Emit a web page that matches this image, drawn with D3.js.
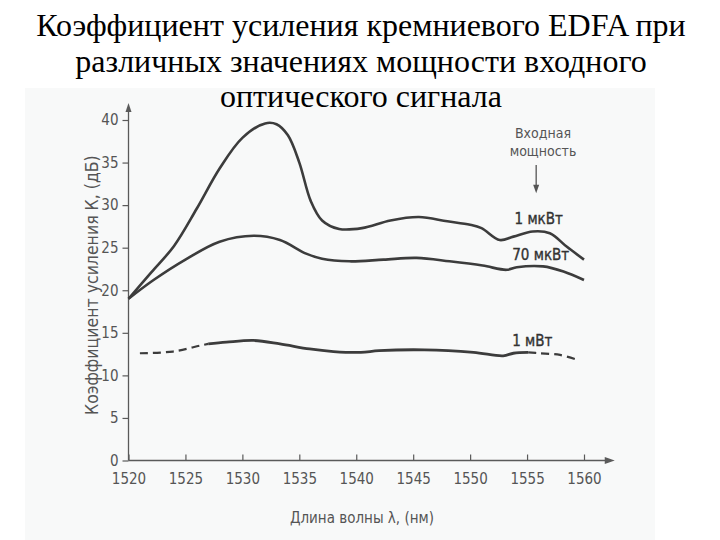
<!DOCTYPE html>
<html><head><meta charset="utf-8">
<script src="https://cdn.jsdelivr.net/npm/d3@7"></script>
<style>
html,body{margin:0;padding:0;background:#fff;}
svg{display:block;}
.tick text{font-family:"Liberation Sans Narrow","Arial Narrow","DejaVu Sans Condensed","Liberation Sans",Arial,sans-serif;font-stretch:condensed;}
</style></head>
<body>
<svg id="chart" width="720" height="540"></svg>
<script>
// ---- data ----
const titleLines = ["Коэффициент усиления кремниевого EDFA при", "различных значениях мощности входного", "оптического сигнала"];
const yTitle = "Коэффициент усиления К, (дБ)";
const xTitle = "Длина волны λ, (нм)";
const xTicks = [1520, 1525, 1530, 1535, 1540, 1545, 1550, 1555, 1560];
const yTicks = [0, 5, 10, 15, 20, 25, 30, 35, 40];

const lambda1uW = [1520, 1522, 1524, 1526, 1528, 1530, 1532, 1533, 1534, 1535, 1536, 1537, 1538.5, 1540.5, 1543, 1545.5, 1548, 1550, 1551, 1552.6, 1553.8, 1555.5, 1557, 1558.5, 1560];
const gain1uW   = [19.0, 22.1, 25.2, 29.6, 34.3, 37.9, 39.6, 39.5, 38.2, 35.0, 30.5, 28.2, 27.2, 27.3, 28.2, 28.6, 28.1, 27.7, 27.3, 25.9, 26.3, 26.9, 26.7, 25.1, 23.6];

const lambda70uW = [1520, 1522.2, 1525, 1528, 1531, 1533.3, 1535.6, 1537, 1539.4, 1542.4, 1545.3, 1548.2, 1551.1, 1553.2, 1554.1, 1556.4, 1558.2, 1560];
const gain70uW   = [19.0, 21.2, 23.6, 25.7, 26.4, 25.9, 24.3, 23.7, 23.4, 23.6, 23.8, 23.4, 22.9, 22.4, 22.7, 22.8, 22.2, 21.2];

const lambda1mW = [1521, 1523.9, 1526.3, 1527, 1528.6, 1531, 1533.3, 1535.9, 1538, 1540.4, 1542, 1546, 1550.3, 1552.9, 1553.8, 1555.1, 1556.1, 1557.9, 1559.5];
const gain1mW   = [12.6, 12.8, 13.5, 13.7, 13.9, 14.1, 13.7, 13.1, 12.8, 12.7, 12.9, 13.0, 12.7, 12.3, 12.6, 12.7, 12.6, 12.4, 11.8];
const solid1mW = [1527, 1555.1]; // measured (solid) range; outside is dashed

const seriesLabels = ["1 мкВт", "70 мкВт", "1 мВт"];
const legendTitle = ["Входная", "мощность"];

// ---- drawing ----
const svg = d3.select("#chart");
svg.append("rect").attr("x",0).attr("y",0).attr("width",720).attr("height",540).attr("fill","#fff");
svg.append("rect").attr("x",25).attr("y",88).attr("width",630).attr("height",452).attr("fill","#f8f9f9");

const x = d3.scaleLinear().domain([1520, 1560]).range([128.5, 584]);
const y = d3.scaleLinear().domain([0, 40]).range([460.5, 120]);

// title
svg.append("g").selectAll("text").data(titleLines).join("text")
  .attr("x", 361).attr("y", (d,i)=>36 + i*35.5)
  .attr("text-anchor","middle")
  .attr("font-family","'Liberation Serif','Times New Roman',serif")
  .attr("font-size", 32).attr("fill","#000")
  .text(d=>d);

const axisColor = "#5a5a5a", textColor = "#555";
const sansFont = "'Liberation Sans Narrow','Arial Narrow','DejaVu Sans Condensed','Liberation Sans',Arial,sans-serif";

// axes
const gy = svg.append("g").attr("transform", `translate(${x(1520)},0)`)
  .call(d3.axisLeft(y).tickValues(yTicks).tickSizeInner(6).tickSizeOuter(0).tickPadding(4));
const gx = svg.append("g").attr("transform", `translate(0,${y(0)})`)
  .call(d3.axisBottom(x).tickValues(xTicks).tickFormat(d3.format("d")).tickSizeInner(-6).tickSizeOuter(0).tickPadding(13));
[gx, gy].forEach(g=>{
  g.select(".domain").remove();
  g.selectAll(".tick line").attr("stroke", axisColor).attr("stroke-width",1.2);
  g.selectAll(".tick text").attr("fill", textColor).attr("font-size", 15);
});

// axis lines with arrows
const x0 = x(1520), y0 = y(0);
const yTop = y(42), xEnd = x(1562.7);
svg.append("line").attr("x1",x0).attr("y1",y0).attr("x2",x0).attr("y2",yTop+4)
  .attr("stroke",axisColor).attr("stroke-width",1.3);
svg.append("line").attr("x1",x0).attr("y1",y0).attr("x2",xEnd-4).attr("y2",y0)
  .attr("stroke",axisColor).attr("stroke-width",1.3);
svg.append("path").attr("d",`M${x0},${yTop} L${x0-3},${yTop+9} L${x0+3},${yTop+9} Z`).attr("fill",axisColor);
svg.append("path").attr("d",`M${xEnd},${y0} L${xEnd-10},${y0-3.5} L${xEnd-10},${y0+3.5} Z`).attr("fill",axisColor);

// axis titles
svg.append("text").attr("transform",`translate(92,${y(20.6)}) rotate(-90)`)
  .attr("text-anchor","middle").attr("dy","0.35em")
  .attr("font-family",sansFont).attr("font-stretch","condensed")
  .attr("font-size",17.5).attr("fill",textColor).text(yTitle);
svg.append("text").attr("x",x(1540.5)).attr("y",523)
  .attr("text-anchor","middle")
  .attr("font-family",sansFont).attr("font-stretch","condensed")
  .attr("font-size",15).attr("fill",textColor).text(xTitle);

// curves
const line = d3.line().x(d=>x(d[0])).y(d=>y(d[1])).curve(d3.curveCatmullRom.alpha(0.5));
const curveColor = "#3c3c3c";
const s1 = d3.zip(lambda1uW, gain1uW);
const s2 = d3.zip(lambda70uW, gain70uW);
const s3 = d3.zip(lambda1mW, gain1mW);
[s1, s2].forEach(s=>{
  svg.append("path").attr("d", line(s)).attr("fill","none")
    .attr("stroke",curveColor).attr("stroke-width",2.6).attr("stroke-linejoin","round");
});
const seg = (lo, hi) => s3.filter(d=>d[0]>=lo && d[0]<=hi);
svg.append("path").attr("d", line(seg(-Infinity, solid1mW[0]))).attr("fill","none")
  .attr("stroke",curveColor).attr("stroke-width",2.2).attr("stroke-dasharray","8,5");
svg.append("path").attr("d", line(seg(solid1mW[1], Infinity))).attr("fill","none")
  .attr("stroke",curveColor).attr("stroke-width",2.2).attr("stroke-dasharray","8,5");
svg.append("path").attr("d", line(seg(solid1mW[0], solid1mW[1]))).attr("fill","none")
  .attr("stroke",curveColor).attr("stroke-width",2.8);

// series labels
const labPos = [[1553.9, 27.8], [1553.7, 23.5], [1553.7, 13.5]];
svg.append("g").selectAll("text").data(seriesLabels).join("text")
  .attr("x",(d,i)=>x(labPos[i][0])).attr("y",(d,i)=>y(labPos[i][1]))
  .attr("font-family",sansFont).attr("font-stretch","condensed")
  .attr("font-size",15).attr("fill","#333")
  .attr("stroke","#333").attr("stroke-width",0.35).text(d=>d);

// legend title + arrow
svg.append("g").selectAll("text").data(legendTitle).join("text")
  .attr("x", x(1556.4)).attr("y",(d,i)=>y(37.9) + i*18.5)
  .attr("text-anchor","middle")
  .attr("font-family",sansFont).attr("font-stretch","condensed")
  .attr("font-size",14).attr("fill","#555").text(d=>d);
const ax = x(1555.8);
svg.append("line").attr("x1",ax).attr("y1",y(34.7)).attr("x2",ax).attr("y2",y(32.2)).attr("stroke","#555").attr("stroke-width",1.3);
svg.append("path").attr("d",`M${ax},${y(31.4)} L${ax-3},${y(32.4)} L${ax+3},${y(32.4)} Z`).attr("fill","#555");
</script>
</body></html>
